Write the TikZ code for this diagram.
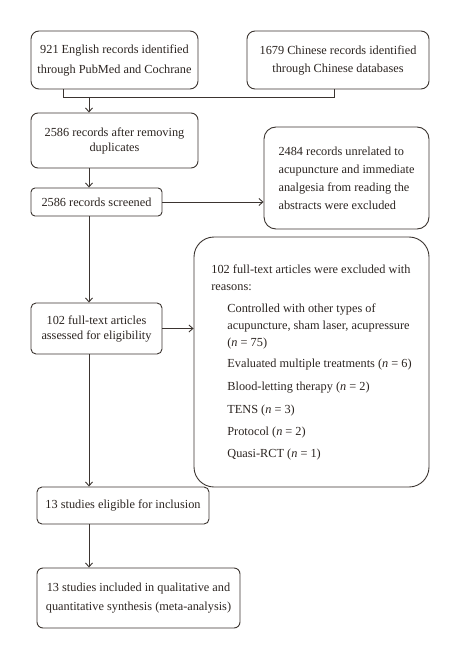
\documentclass[tikz,border=0pt]{standalone}
\usepackage{fontspec}
\setmainfont{Liberation Serif}
\usetikzlibrary{arrows.meta}
\definecolor{flowline}{HTML}{3B3430}
\definecolor{flowtext}{HTML}{2B2420}
\tikzset{
  stage/.style={draw=flowline,line width=0.9pt,rounded corners=6pt,align=center,inner sep=0pt,
    text=flowtext,font=\fontsize{12.3}{15}\selectfont},
  exclbox/.style={stage,align=left},
  flow/.style={draw=flowline,line width=0.9pt,-{Straight Barb[length=4pt,width=7pt]}},
  joinline/.style={draw=flowline,line width=0.9pt}
}

\begin{document}
\begin{tikzpicture}[x=1pt,y=-1pt]
  \useasboundingbox (0,0) rectangle (460,660);
  \node[stage,minimum width=167pt,minimum height=58pt,rounded corners=8pt] (eng) at (114.5,60)
    {921 English records identified\\[5pt]through PubMed and Cochrane};
  \node[stage,minimum width=182pt,minimum height=58pt,rounded corners=8pt] (chn) at (338,60)
    {1679 Chinese records identified\\[3pt]through Chinese databases};
  \node[stage,minimum width=167pt,minimum height=55pt,rounded corners=7pt] (dedup) at (114.5,140.5)
    {2586 records after removing\\duplicates};
  \node[exclbox,minimum width=165pt,minimum height=102pt,rounded corners=12pt,
    font=\fontsize{12.3}{18}\selectfont] (unrel) at (346.5,178)
    {2484 records unrelated to\\acupuncture and immediate\\analgesia from reading the\\abstracts were excluded};
  \node[stage,minimum width=131pt,minimum height=28pt,rounded corners=4pt] (screen) at (96.5,202)
    {2586 records screened};
  \node[exclbox,minimum width=235pt,minimum height=250pt,rounded corners=20pt,
    font=\fontsize{12.3}{17}\selectfont] (excl) at (311.5,362)
    {102 full-text articles were excluded with\\reasons:\\[5pt]
     \hspace*{16pt}Controlled with other types of\\
     \hspace*{16pt}acupuncture, sham laser, acupressure\\
     \hspace*{16pt}(\textit{n} = 75)\\[4pt]
     \hspace*{16pt}Evaluated multiple treatments (\textit{n} = 6)\\[6pt]
     \hspace*{16pt}Blood-letting therapy (\textit{n} = 2)\\[6pt]
     \hspace*{16pt}TENS (\textit{n} = 3)\\[5pt]
     \hspace*{16pt}Protocol (\textit{n} = 2)\\[5pt]
     \hspace*{16pt}Quasi-RCT (\textit{n} = 1)};
  \node[stage,minimum width=131pt,minimum height=51pt,rounded corners=5pt] (full) at (96.5,328.5)
    {102 full-text articles\\assessed for eligibility};
  \node[stage,minimum width=172pt,minimum height=37pt,rounded corners=5pt] (elig) at (123,505.5)
    {13 studies eligible for inclusion};
  \node[stage,minimum width=203pt,minimum height=60pt,rounded corners=6pt] (incl) at (138.5,598)
    {13 studies included in qualitative and\\[4pt]quantitative synthesis (meta-analysis)};

  \coordinate (engdrop) at (63,97);
  \coordinate (chndrop) at (334,97);
  \coordinate (merge) at (89,97);
  \draw[joinline] (eng.south -| engdrop) -- (engdrop) -- (chndrop) -- (chn.south -| chndrop);
  \draw[flow] (merge) -- (dedup.north -| merge);
  \draw[flow] (dedup.south -| merge) -- (screen.north -| merge);
  \draw[flow] (screen.east) -- (screen.east -| unrel.west);
  \draw[flow] (screen.south -| merge) -- (full.north -| merge);
  \draw[flow] (full.east) -- (full.east -| excl.west);
  \draw[flow] (full.south -| merge) -- (elig.north -| merge);
  \draw[flow] (elig.south -| merge) -- (incl.north -| merge);
\end{tikzpicture}
\end{document}
